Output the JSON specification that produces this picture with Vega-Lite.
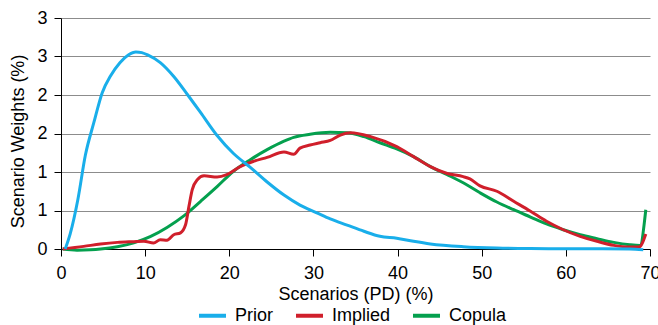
{
  "$schema": "https://vega.github.io/schema/vega-lite/v6.json",
  "width": 589,
  "height": 231,
  "autosize": "none",
  "padding": {"left": 61, "top": 18, "right": 8, "bottom": 76},
  "background": "white",
  "config": {
    "view": {"stroke": null},
    "font": "Liberation Sans",
    "axis": {
      "domainColor": "#000000",
      "domainWidth": 1,
      "tickColor": "#000000",
      "tickWidth": 1,
      "tickSize": 7,
      "labelFontSize": 18,
      "labelColor": "#000000",
      "titleFontSize": 18,
      "titleFontWeight": "normal",
      "titleColor": "#000000",
      "labelFont": "Liberation Sans",
      "titleFont": "Liberation Sans"
    },
    "legend": {
      "labelFont": "Liberation Sans",
      "labelFontSize": 18,
      "labelColor": "#000000"
    }
  },
  "data": {
    "values": [
      {"series": "Copula", "pd": 0.2, "w": 0},
      {"series": "Copula", "pd": 1.9, "w": -0.015},
      {"series": "Copula", "pd": 3.5, "w": -0.01},
      {"series": "Copula", "pd": 4.7, "w": 0},
      {"series": "Copula", "pd": 6.7, "w": 0.03},
      {"series": "Copula", "pd": 8.65, "w": 0.08},
      {"series": "Copula", "pd": 10.6, "w": 0.16},
      {"series": "Copula", "pd": 12.6, "w": 0.28},
      {"series": "Copula", "pd": 14.6, "w": 0.43},
      {"series": "Copula", "pd": 16.6, "w": 0.62},
      {"series": "Copula", "pd": 18.55, "w": 0.81},
      {"series": "Copula", "pd": 20.5, "w": 1.01},
      {"series": "Copula", "pd": 22.5, "w": 1.16},
      {"series": "Copula", "pd": 24.5, "w": 1.29},
      {"series": "Copula", "pd": 26.5, "w": 1.4},
      {"series": "Copula", "pd": 27.65, "w": 1.45},
      {"series": "Copula", "pd": 29.6, "w": 1.49},
      {"series": "Copula", "pd": 32.0, "w": 1.515},
      {"series": "Copula", "pd": 34.0, "w": 1.51},
      {"series": "Copula", "pd": 36.0, "w": 1.46},
      {"series": "Copula", "pd": 37.9, "w": 1.38},
      {"series": "Copula", "pd": 39.9, "w": 1.3},
      {"series": "Copula", "pd": 41.9, "w": 1.2},
      {"series": "Copula", "pd": 43.9, "w": 1.07},
      {"series": "Copula", "pd": 45.9, "w": 0.965},
      {"series": "Copula", "pd": 47.8, "w": 0.86},
      {"series": "Copula", "pd": 49.8, "w": 0.73},
      {"series": "Copula", "pd": 51.8, "w": 0.61},
      {"series": "Copula", "pd": 53.8, "w": 0.51},
      {"series": "Copula", "pd": 55.8, "w": 0.415},
      {"series": "Copula", "pd": 57.7, "w": 0.325},
      {"series": "Copula", "pd": 59.7, "w": 0.25},
      {"series": "Copula", "pd": 61.7, "w": 0.185},
      {"series": "Copula", "pd": 63.7, "w": 0.134},
      {"series": "Copula", "pd": 65.7, "w": 0.086},
      {"series": "Copula", "pd": 67.6, "w": 0.056},
      {"series": "Copula", "pd": 68.8, "w": 0.047},
      {"series": "Copula", "pd": 69.5, "w": 0.51},
      {"series": "Implied", "pd": 0.2, "w": 0},
      {"series": "Implied", "pd": 2.7, "w": 0.034},
      {"series": "Implied", "pd": 4.7, "w": 0.065},
      {"series": "Implied", "pd": 6.7, "w": 0.086},
      {"series": "Implied", "pd": 8.65, "w": 0.095},
      {"series": "Implied", "pd": 9.85, "w": 0.1},
      {"series": "Implied", "pd": 11.0, "w": 0.078},
      {"series": "Implied", "pd": 11.8, "w": 0.12},
      {"series": "Implied", "pd": 12.6, "w": 0.115},
      {"series": "Implied", "pd": 13.4, "w": 0.185},
      {"series": "Implied", "pd": 14.2, "w": 0.21},
      {"series": "Implied", "pd": 14.8, "w": 0.315},
      {"series": "Implied", "pd": 15.2, "w": 0.55},
      {"series": "Implied", "pd": 15.6, "w": 0.77},
      {"series": "Implied", "pd": 16.2, "w": 0.9},
      {"series": "Implied", "pd": 17.0, "w": 0.95},
      {"series": "Implied", "pd": 18.55, "w": 0.935},
      {"series": "Implied", "pd": 19.7, "w": 0.965},
      {"series": "Implied", "pd": 21.3, "w": 1.07},
      {"series": "Implied", "pd": 22.9, "w": 1.14},
      {"series": "Implied", "pd": 24.5, "w": 1.19},
      {"series": "Implied", "pd": 26.5, "w": 1.26},
      {"series": "Implied", "pd": 27.65, "w": 1.23},
      {"series": "Implied", "pd": 28.4, "w": 1.31},
      {"series": "Implied", "pd": 29.6, "w": 1.35},
      {"series": "Implied", "pd": 30.8, "w": 1.38},
      {"series": "Implied", "pd": 32.0, "w": 1.41},
      {"series": "Implied", "pd": 33.2, "w": 1.48},
      {"series": "Implied", "pd": 34.4, "w": 1.51},
      {"series": "Implied", "pd": 36.8, "w": 1.46},
      {"series": "Implied", "pd": 39.9, "w": 1.33},
      {"series": "Implied", "pd": 41.9, "w": 1.2},
      {"series": "Implied", "pd": 43.9, "w": 1.07},
      {"series": "Implied", "pd": 45.9, "w": 0.98},
      {"series": "Implied", "pd": 47.8, "w": 0.94},
      {"series": "Implied", "pd": 48.6, "w": 0.91},
      {"series": "Implied", "pd": 49.8, "w": 0.82},
      {"series": "Implied", "pd": 51.8, "w": 0.75},
      {"series": "Implied", "pd": 53.8, "w": 0.62},
      {"series": "Implied", "pd": 55.8, "w": 0.49},
      {"series": "Implied", "pd": 57.7, "w": 0.36},
      {"series": "Implied", "pd": 59.7, "w": 0.25},
      {"series": "Implied", "pd": 61.7, "w": 0.164},
      {"series": "Implied", "pd": 63.7, "w": 0.1},
      {"series": "Implied", "pd": 65.7, "w": 0.047},
      {"series": "Implied", "pd": 67.6, "w": 0.026},
      {"series": "Implied", "pd": 68.7, "w": 0.026},
      {"series": "Implied", "pd": 69.5, "w": 0.195},
      {"series": "Prior", "pd": 0.5, "w": 0},
      {"series": "Prior", "pd": 1.1, "w": 0.2},
      {"series": "Prior", "pd": 2.0, "w": 0.64},
      {"series": "Prior", "pd": 2.9, "w": 1.22},
      {"series": "Prior", "pd": 3.9, "w": 1.64},
      {"series": "Prior", "pd": 4.9, "w": 2.03},
      {"series": "Prior", "pd": 5.9, "w": 2.25},
      {"series": "Prior", "pd": 7.0, "w": 2.42},
      {"series": "Prior", "pd": 8.0, "w": 2.52},
      {"series": "Prior", "pd": 8.9, "w": 2.56},
      {"series": "Prior", "pd": 9.6, "w": 2.55},
      {"series": "Prior", "pd": 10.3, "w": 2.52},
      {"series": "Prior", "pd": 11.8, "w": 2.42},
      {"series": "Prior", "pd": 13.4, "w": 2.24},
      {"series": "Prior", "pd": 15.0, "w": 2.01},
      {"series": "Prior", "pd": 16.6, "w": 1.77},
      {"series": "Prior", "pd": 18.5, "w": 1.48},
      {"series": "Prior", "pd": 20.5, "w": 1.24},
      {"series": "Prior", "pd": 22.5, "w": 1.06},
      {"series": "Prior", "pd": 24.5, "w": 0.87},
      {"series": "Prior", "pd": 26.5, "w": 0.7},
      {"series": "Prior", "pd": 28.4, "w": 0.57},
      {"series": "Prior", "pd": 30.4, "w": 0.47},
      {"series": "Prior", "pd": 32.0, "w": 0.39},
      {"series": "Prior", "pd": 34.0, "w": 0.31},
      {"series": "Prior", "pd": 36.0, "w": 0.23},
      {"series": "Prior", "pd": 37.9, "w": 0.165},
      {"series": "Prior", "pd": 39.9, "w": 0.14},
      {"series": "Prior", "pd": 41.9, "w": 0.1},
      {"series": "Prior", "pd": 43.9, "w": 0.066},
      {"series": "Prior", "pd": 47.8, "w": 0.03},
      {"series": "Prior", "pd": 51.8, "w": 0.012},
      {"series": "Prior", "pd": 55.8, "w": 0.005},
      {"series": "Prior", "pd": 59.7, "w": 0.003},
      {"series": "Prior", "pd": 63.6, "w": 0.002},
      {"series": "Prior", "pd": 67.6, "w": 0},
      {"series": "Prior", "pd": 69.2, "w": -0.01}
    ]
  },
  "mark": {"type": "line", "strokeWidth": 3, "interpolate": "monotone", "clip": false},
  "encoding": {
    "x": {
      "field": "pd",
      "type": "quantitative",
      "scale": {"domain": [0, 70], "nice": false},
      "axis": {
        "values": [0, 10, 20, 30, 40, 50, 60, 70],
        "title": "Scenarios (PD) (%)",
        "grid": false,
        "labelPadding": 8,
        "titlePadding": 3,
        "labelFlush": false
      }
    },
    "y": {
      "field": "w",
      "type": "quantitative",
      "scale": {"domain": [0, 3], "nice": false},
      "axis": {
        "values": [0, 0.5, 1, 1.5, 2, 2.5, 3],
        "format": ".0f",
        "title": "Scenario Weights (%)",
        "grid": true,
        "gridColor": "#8c8c8c",
        "gridWidth": 1,
        "labelPadding": 7,
        "titlePadding": 9,
        "titleY": 123
      }
    },
    "color": {
      "field": "series",
      "type": "nominal",
      "scale": {"domain": ["Prior", "Implied", "Copula"], "range": ["#19AEEA", "#D01F2B", "#04A04E"]},
      "legend": {
        "title": null,
        "orient": "none",
        "direction": "horizontal",
        "legendX": 136,
        "legendY": 282,
        "padding": 0,
        "symbolType": "stroke",
        "symbolSize": 729,
        "symbolStrokeWidth": 4,
        "labelOffset": 7,
        "columnPadding": 14
      }
    }
  }
}
